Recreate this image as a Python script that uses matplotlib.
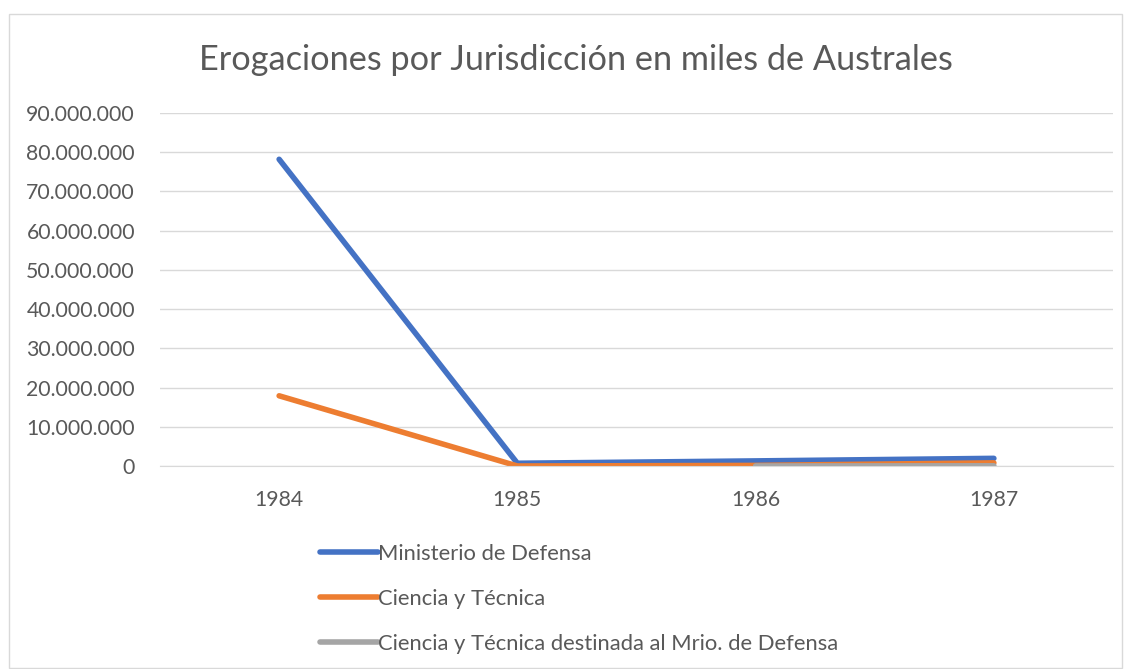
import numpy as np
import matplotlib
matplotlib.use("Agg")
from matplotlib import pyplot as plt
from matplotlib.patches import Rectangle
from matplotlib.ticker import FuncFormatter

# data
years = ["1984", "1985", "1986", "1987"]
defensa = [78200000, 700000, 1300000, 1950000]
ciencia = [17900000, 0, 150000, 800000]
ciencia_defensa = [np.nan, np.nan, 0, 50000]
series_names = ["Ministerio de Defensa", "Ciencia y Técnica",
                "Ciencia y Técnica destinada al Mrio. de Defensa"]
colors = ["#4472c4", "#ed7d31", "#a5a5a5"]
text_color = "#595959"

plt.rcParams['font.family'] = ['Lato', 'DejaVu Sans']

fig = plt.figure(figsize=(11.31, 6.69), dpi=100)
ax = fig.add_axes([160 / 1131, 1 - 466 / 669, (1113 - 160) / 1131, (466 - 113) / 669])

# chart border
fig.patches.append(Rectangle((9 / 1131, 0.002), 1113 / 1131, 1 - 14 / 669 - 0.002,
                             transform=fig.transFigure, fill=False,
                             edgecolor="#d9d9d9", linewidth=1))

x = np.arange(len(years))
for vals, name, c in zip([defensa, ciencia, ciencia_defensa], series_names, colors):
    ax.plot(x, vals, color=c, linewidth=4, solid_capstyle="round", label=name)

ax.set_xlim(-0.5, 3.5)
ax.set_ylim(0, 90000000)
ax.set_yticks(np.arange(0, 90000001, 10000000))
ax.yaxis.set_major_formatter(FuncFormatter(lambda v, p: f"{int(v):,}".replace(",", ".")))
ax.set_xticks(x)
ax.set_xticklabels(years)
ax.grid(axis="y", color="#d9d9d9", linewidth=1)
ax.set_axisbelow(True)
for s in ["top", "right", "left"]:
    ax.spines[s].set_visible(False)
ax.spines["bottom"].set_color("#d9d9d9")
ax.tick_params(axis="both", length=0, labelsize=15.3, colors=text_color)
ax.tick_params(axis="y", pad=18)
ax.tick_params(axis="x", pad=17)

fig.text(576 / 1131, 1 - 60 / 669, "Erogaciones por Jurisdicción en miles de Australes",
         ha="center", va="center", fontsize=24.7, color=text_color)

leg = fig.legend(loc="upper left", bbox_to_anchor=(320 / 1131, 1 - 544 / 669),
                 frameon=False, handlelength=2.65, handletextpad=0.0,
                 borderpad=0, borderaxespad=0,
                 labelspacing=1.13, fontsize=15.8)
for t in leg.get_texts():
    t.set_color(text_color)

fig.savefig("out.png", dpi=100)
